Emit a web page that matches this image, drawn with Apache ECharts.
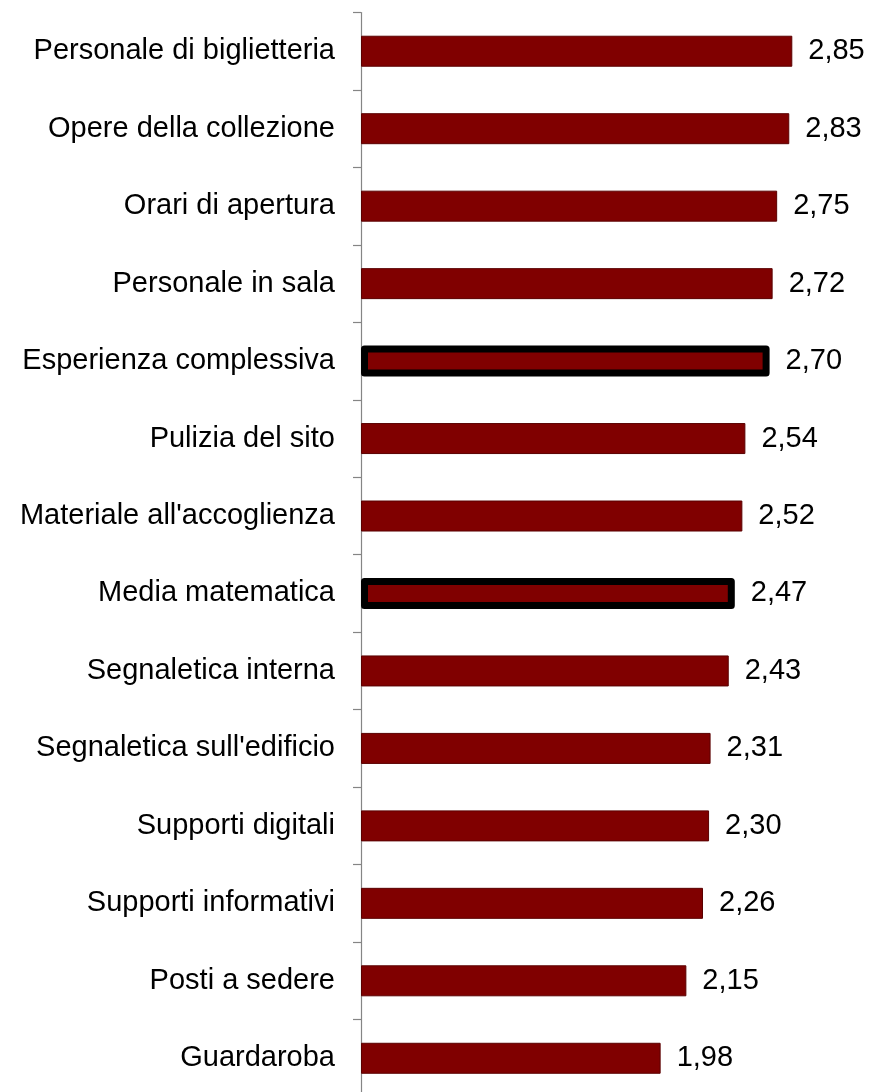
<!DOCTYPE html>
<html>
<head>
<meta charset="utf-8">
<script src="https://cdn.jsdelivr.net/npm/echarts@6/dist/echarts.min.js"></script>
<style>
  html, body { margin: 0; padding: 0; background: #fff; }
  #chart { width: 869px; height: 1092px; }
</style>
</head>
<body>
<div id="chart"></div>
<script>
// Soddisfazione media per aspetto del servizio (scala 0-3)
const categories = [
  "Personale di biglietteria",
  "Opere della collezione",
  "Orari di apertura",
  "Personale in sala",
  "Esperienza complessiva",
  "Pulizia del sito",
  "Materiale all'accoglienza",
  "Media matematica",
  "Segnaletica interna",
  "Segnaletica sull'edificio",
  "Supporti digitali",
  "Supporti informativi",
  "Posti a sedere",
  "Guardaroba"
];
const scores = [2.85, 2.83, 2.75, 2.72, 2.70, 2.54, 2.52, 2.47, 2.43, 2.31, 2.30, 2.26, 2.15, 1.98];
// Voci di sintesi evidenziate con bordo spesso
const summaryItems = ["Esperienza complessiva", "Media matematica"];

const FONT = "'Liberation Sans', Arial, sans-serif";

const chart = echarts.init(document.getElementById('chart'), null, { renderer: 'canvas' });

const barData = scores.map((v, i) => {
  const isSummary = summaryItems.includes(categories[i]);
  return {
    value: v,
    itemStyle: isSummary
      ? { color: '#800000', borderColor: '#000000', borderWidth: 7, borderJoin: 'round' }
      : { color: '#800000', borderColor: '#5a0000', borderWidth: 1 }
  };
});

chart.setOption({
  animation: false,
  backgroundColor: '#ffffff',
  grid: {
    left: 361, top: 12.5, width: 454, height: 1084.5,
    containLabel: false,
    outerBoundsMode: 'none'
  },
  xAxis: {
    type: 'value',
    min: 0,
    max: 3,
    show: false
  },
  yAxis: {
    type: 'category',
    data: categories,
    inverse: true,
    boundaryGap: true,
    axisLine: { show: true, lineStyle: { color: '#858585', width: 1.2 } },
    axisTick: { show: true, inside: false, length: 8, lineStyle: { color: '#858585', width: 1.2 } },
    axisLabel: {
      margin: 26,
      fontFamily: FONT,
      fontSize: 29,
      color: '#000',
      padding: [7, 0, 0, 0]
    },
    splitLine: { show: false }
  },
  series: [{
    type: 'bar',
    data: barData,
    barWidth: 31,
    label: {
      show: true,
      position: 'right',
      distance: 16,
      fontFamily: FONT,
      fontSize: 29,
      color: '#000',
      padding: [7, 0, 0, 0],
      formatter: p => p.value.toFixed(2).replace('.', ',')
    }
  }]
});
</script>
</body>
</html>
